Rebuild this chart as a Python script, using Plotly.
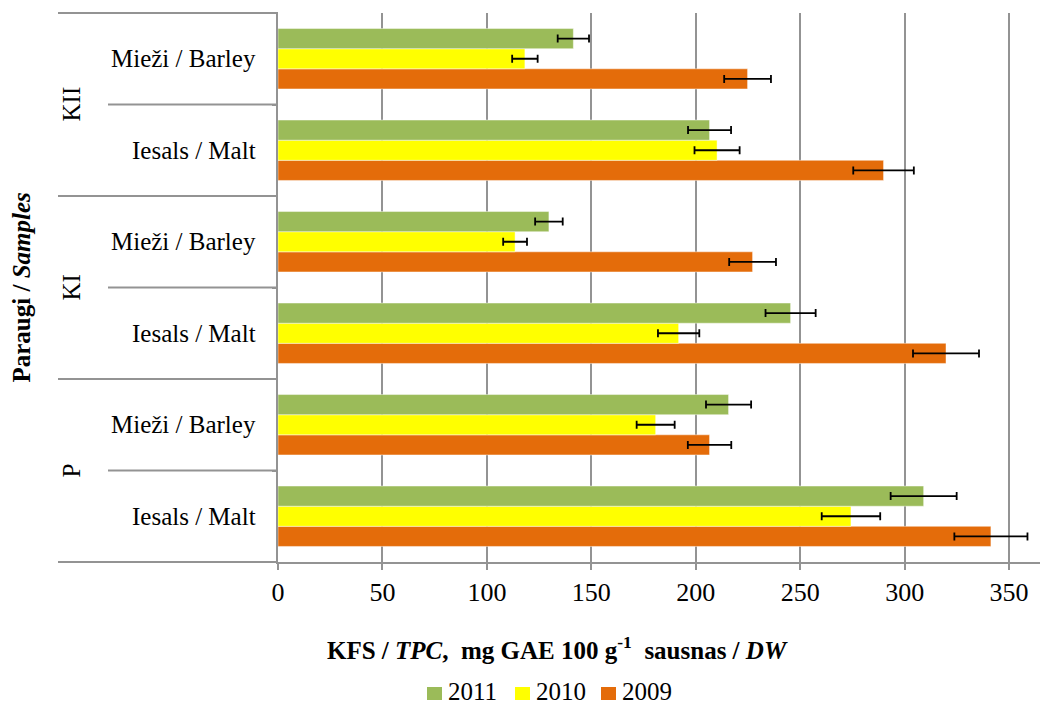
import plotly.graph_objects as go

# ---------------- data ----------------
groups = ["P", "P", "KI", "KI", "KII", "KII"]
samples = ["Iesals / Malt", "Mieži / Barley", "Iesals / Malt", "Mieži / Barley",
           "Iesals / Malt", "Mieži / Barley"]
keys = [g + " · " + s for g, s in zip(groups, samples)]

years = ["2009", "2010", "2011"]
values_2009 = [341.3, 206.6, 319.8, 227.2, 289.9, 224.8]
errors_2009 = [17.5, 10.4, 15.8, 11.2, 14.5, 11.2]
values_2010 = [274.3, 180.8, 191.8, 113.5, 210.2, 118.2]
errors_2010 = [14.0, 9.1, 9.9, 5.7, 10.8, 6.1]
values_2011 = [309.1, 215.7, 245.4, 129.7, 206.6, 141.4]
errors_2011 = [15.8, 10.8, 12.0, 6.6, 10.3, 7.5]

x_ticks = [0, 50, 100, 150, 200, 250, 300, 350]
group_labels = ["P", "KI", "KII"]

colors = {"2009": "#E46C0A", "2010": "#FFFF00", "2011": "#9BBB59"}
series = {"2009": (values_2009, errors_2009),
          "2010": (values_2010, errors_2010),
          "2011": (values_2011, errors_2011)}

FONT = "Liberation Serif"
W, H = 1040, 705
L, R, T, B = 278, 0, 13, 143
PW = W - L - R
PH = H - T - B

fig = go.Figure()
for yr in years:
    vals, errs = series[yr]
    fig.add_trace(go.Bar(
        y=keys, x=vals, orientation="h", name=yr,
        marker=dict(color=colors[yr], line=dict(color="rgba(255,255,255,0.45)", width=1)),
        error_x=dict(type="data", array=errs, visible=True, color="black",
                     thickness=1.8, width=4),
        showlegend=False,
    ))

fig.update_layout(
    width=W, height=H,
    margin=dict(l=L, r=R, t=T, b=B),
    paper_bgcolor="white", plot_bgcolor="white",
    barmode="group", bargap=0.34, bargroupgap=0,
    font=dict(family=FONT, color="black", size=25),
)

fig.update_xaxes(
    range=[0, 364.8], tickvals=x_ticks, ticktext=[str(v) for v in x_ticks],
    showgrid=True, gridcolor="#939393", gridwidth=2,
    showline=True, linecolor="#939393", linewidth=2,
    ticks="outside", ticklen=6, tickwidth=2, tickcolor="#939393",
    tickfont=dict(size=26, family=FONT, color="black"), ticklabelstandoff=0,
    zeroline=False,
)
fig.update_yaxes(
    type="category", categoryorder="array", categoryarray=keys,
    showticklabels=False, showgrid=False, zeroline=False,
    showline=True, linecolor="#939393", linewidth=2,
    ticks="outside", ticklen=4, tickwidth=2, tickcolor="#939393",
    tickson="boundaries",
)

def px_to_paper_x(px):
    return (px - L) / PW

def px_to_paper_y(py):
    return (H - B - py) / PH

# separators of the category axis
shapes = []
n = len(keys)
for k in range(n + 1):
    y = k / n
    x0 = px_to_paper_x(58) if k % 2 == 0 else px_to_paper_x(108)
    shapes.append(dict(type="line", xref="paper", yref="paper", x0=x0, x1=0,
                       y0=y, y1=y, line=dict(color="#939393", width=2)))

annotations = []
# inner labels
for kkey, s in zip(keys, samples):
    annotations.append(dict(xref="paper", yref="y", x=0, y=kkey, text=s,
                            xanchor="right", yanchor="middle", xshift=-20,
                            showarrow=False, font=dict(size=25, family=FONT)))
# outer group labels
for i, g in enumerate(group_labels):
    annotations.append(dict(xref="paper", yref="paper", x=px_to_paper_x(71),
                            y=(2 * i + 1) / n, text=g, textangle=-90,
                            xanchor="center", yanchor="middle", showarrow=False,
                            font=dict(size=25, family=FONT)))
# y title
annotations.append(dict(xref="paper", yref="paper", x=px_to_paper_x(21), y=0.5,
                        text="<b>Paraugi / <i>Samples</i></b>", textangle=-90,
                        xanchor="center", yanchor="middle", showarrow=False,
                        font=dict(size=25, family=FONT)))
# x title
annotations.append(dict(xref="paper", yref="paper", x=px_to_paper_x(557),
                        y=px_to_paper_y(648),
                        text="<b>KFS / <i>TPC</i>,\u00a0 mg GAE 100 g<sup>-1</sup>\u00a0 sausnas / <i>DW</i></b>",
                        xanchor="center", yanchor="middle", showarrow=False,
                        font=dict(size=25, family=FONT)))

# manual legend
legend_items = [("2011", 427, 446), ("2010", 515, 534), ("2009", 601, 620)]
for yr, sq_x, tx_x in legend_items:
    shapes.append(dict(type="rect", xref="paper", yref="paper",
                       x0=px_to_paper_x(sq_x), x1=px_to_paper_x(sq_x + 15),
                       y0=px_to_paper_y(700), y1=px_to_paper_y(687),
                       fillcolor=colors[yr], line=dict(width=0)))
    annotations.append(dict(xref="paper", yref="paper", x=px_to_paper_x(tx_x),
                            y=px_to_paper_y(691), text=yr, xanchor="left",
                            yanchor="middle", showarrow=False,
                            font=dict(size=25, family=FONT)))

fig.update_layout(shapes=shapes, annotations=annotations)
fig.write_html("out.html")
